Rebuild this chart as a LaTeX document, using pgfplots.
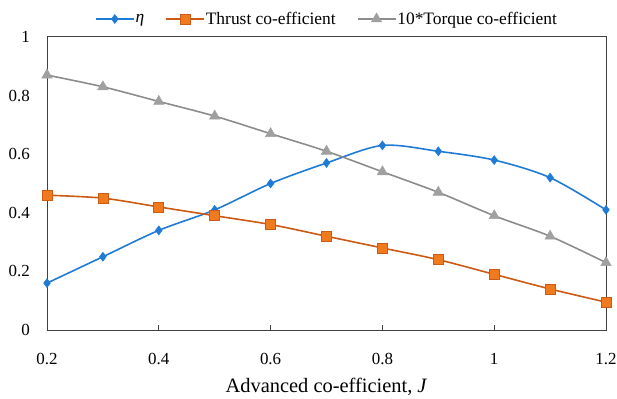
\documentclass[border=0pt]{standalone}
\usepackage{fontspec}
\setmainfont{Liberation Serif}
\usepackage{pgfplots}
\pgfplotsset{compat=1.18}
\definecolor{cblue}{HTML}{1F7BD6}
\definecolor{corange}{HTML}{F07A1E}
\definecolor{cdorange}{HTML}{CC5A14}
\definecolor{cgray}{HTML}{8C8C8C}
\definecolor{cgraym}{HTML}{A0A0A0}
\begin{document}
\begin{tikzpicture}
\begin{axis}[
  scale only axis,
  width=559bp, height=293bp,
  xmin=0.2, xmax=1.2, ymin=0, ymax=1,
  xtick={0.2,0.4,0.6,0.8,1,1.2},
  ytick={0,0.2,0.4,0.6,0.8,1},
  xticklabels={0.2,0.4,0.6,0.8,1,1.2},
  yticklabels={0,0.2,0.4,0.6,0.8,1},
  /pgf/number format/assume math mode=true,
  tick align=inside,
  xtick pos=bottom,
  ytick pos=left,
  ytick style={draw=none},
  xtick style={black!75, line width=0.8pt},
  major tick length=5bp,
  xticklabel style={anchor=center, yshift=-29bp},
  yticklabel style={anchor=east, inner sep=0pt, xshift=-17bp},
  tick label style={font=\fontsize{17}{19}\selectfont},
  axis line style={black!75, line width=1pt},
  xlabel={Advanced co-efficient, \textit{J}},
  xlabel style={at={(axis description cs:0.5,0)}, anchor=center, yshift=-57bp,
    font=\fontsize{20.5}{22}\selectfont, inner sep=0pt},
  legend style={at={(0.5,1)}, anchor=center, yshift=18bp, draw=none, fill=none,
    legend columns=3, font=\fontsize{17.5}{19}\selectfont,
    /tikz/every odd column/.append style={column sep=0bp},
    /tikz/every even column/.append style={column sep=20bp},
    nodes={inner sep=1bp}},
  legend image code/.code={\draw[mark repeat=2,mark phase=2] plot coordinates {(0bp,0bp)(19bp,0bp)(38bp,0bp)};},
  legend cell align=left,
  clip=false,
]
\addplot[cblue, line width=1.6pt, smooth, tension=0.5, mark=diamond*, mark size=4.5bp, mark options={fill=cblue, draw=cblue, line width=0.5pt}]
 coordinates {(0.2,0.16)(0.3,0.25)(0.4,0.34)(0.5,0.41)(0.6,0.50)(0.7,0.57)(0.8,0.63)(0.9,0.61)(1.0,0.58)(1.1,0.52)(1.2,0.41)};
\addlegendentry{\textit{η}}
\addplot[cdorange, line width=1.6pt, smooth, tension=0.5, mark=square*, mark size=5bp, mark options={fill=corange, draw=cdorange, line width=0.7pt}]
 coordinates {(0.2,0.46)(0.3,0.45)(0.4,0.42)(0.5,0.39)(0.6,0.36)(0.7,0.32)(0.8,0.28)(0.9,0.24)(1.0,0.19)(1.1,0.14)(1.2,0.095)};
\addlegendentry{Thrust co-efficient}
\addplot[cgray, line width=1.6pt, smooth, tension=0.5, mark=triangle*, mark size=6bp, mark options={fill=cgraym, draw=cgraym, line width=0.5pt}]
 coordinates {(0.2,0.87)(0.3,0.83)(0.4,0.78)(0.5,0.73)(0.6,0.67)(0.7,0.61)(0.8,0.54)(0.9,0.47)(1.0,0.39)(1.1,0.32)(1.2,0.23)};
\addlegendentry{10*Torque co-efficient}
\end{axis}
\pgfresetboundingbox
\path[use as bounding box] (-47bp,-69bp) rectangle (570bp,330bp);
\end{tikzpicture}
\end{document}
